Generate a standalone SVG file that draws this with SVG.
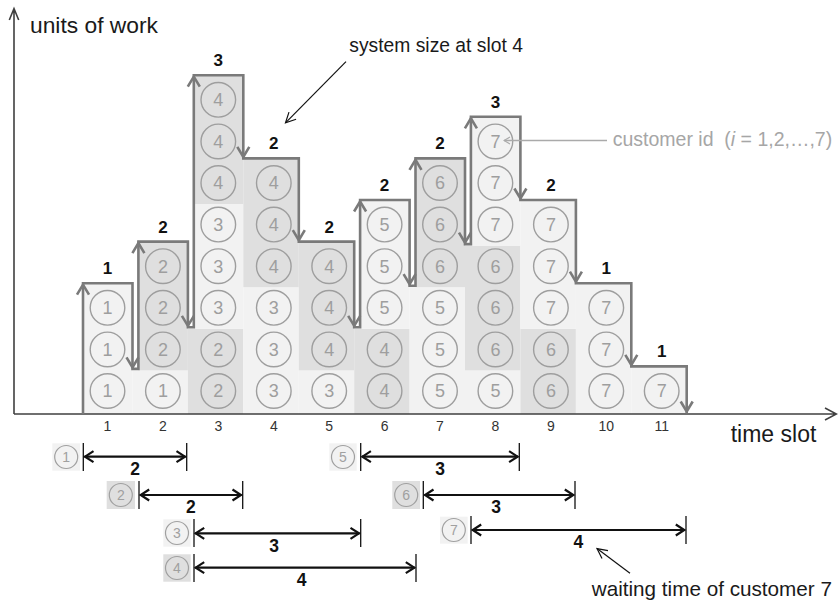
<svg xmlns="http://www.w3.org/2000/svg" xmlns:xlink="http://www.w3.org/1999/xlink" width="838" height="601" viewBox="0 0 838 601">
  <style>
    .lt { fill: #f2f2f2; }
    .dk { fill: #dfdfdf; }
    .tok circle { fill: none; stroke: #9e9e9e; stroke-width: 1.4; }
    .tok text { font-family: "Liberation Sans", Arial, sans-serif; font-size: 18px; fill: #9e9e9e; text-anchor: middle; }
    .stair { fill: none; stroke: #7a7a7a; stroke-width: 2.6; stroke-linejoin: miter; }
    .head { fill: none; stroke: #7a7a7a; stroke-width: 2.6; }
    .size { font-family: "Liberation Sans", Arial, sans-serif; font-size: 17px; font-weight: bold; fill: #111; text-anchor: middle; }
    .axis { fill: none; stroke: #404040; stroke-width: 1.6; }
    .tick { font-family: "Liberation Sans", Arial, sans-serif; font-size: 14px; fill: #333; text-anchor: middle; }
    .lbl { font-family: "Liberation Sans", Arial, sans-serif; fill: #1a1a1a; }
    .note { fill: none; stroke: #111; stroke-width: 1.2; }
    .wt .bar { stroke: #111; stroke-width: 2.2; marker-start: url(#dh); marker-end: url(#dh); }
    .wt .edge { stroke: #111; stroke-width: 1.3; }
    .wt circle { fill: none; stroke: #a0a0a0; stroke-width: 1.2; }
    .wt .num { font-family: "Liberation Sans", Arial, sans-serif; font-size: 14px; fill: #a0a0a0; text-anchor: middle; }
    .wt .val { font-family: "Liberation Sans", Arial, sans-serif; font-size: 17.5px; font-weight: bold; fill: #111; text-anchor: middle; }
  </style>
  <defs>
    <path id="hu" d="M-6,11.5 L0,1.5 L6,11.5"/>
    <path id="hd" d="M-6,-11.5 L0,-1.5 L6,-11.5"/>
    <marker id="dh" viewBox="-12 -8 14 16" refX="0" refY="0" markerWidth="14" markerHeight="16" markerUnits="userSpaceOnUse" orient="auto-start-reverse">
      <path d="M-9,-5.5 L-0.5,0 L-9,5.5" fill="none" stroke="#111" stroke-width="2.2"/>
    </marker>
    <marker id="thin" viewBox="-12 -7 14 14" refX="0" refY="0" markerWidth="14" markerHeight="14" markerUnits="userSpaceOnUse" orient="auto">
      <path d="M-10,-5 L0,0 L-10,5" fill="none" stroke="#111" stroke-width="1.2"/>
    </marker>
    <marker id="grey" viewBox="-9 -5 10 10" refX="0" refY="0" markerWidth="10" markerHeight="10" markerUnits="userSpaceOnUse" orient="auto">
      <path d="M-6,-3.5 L0,0 L-6,3.5" fill="none" stroke="#aaaaaa" stroke-width="1.2"/>
    </marker>
  </defs>

  <!-- work cells, one group per time slot -->
  <g id="slot-1">
    <rect class="lt" x="83" y="283.2" width="49.5" height="130.8"/>
    <g class="tok"><circle cx="107.5" cy="391" r="17.3"/><text x="107.5" y="397.4">1</text>
      <circle cx="107.5" cy="349.4" r="17.3"/><text x="107.5" y="355.8">1</text>
      <circle cx="107.5" cy="307.8" r="17.3"/><text x="107.5" y="314.2">1</text></g>
  </g>
  <g id="slot-2">
    <rect class="lt" x="132.5" y="370.4" width="55.4" height="43.6"/>
    <rect class="dk" x="138.4" y="241.6" width="49.5" height="128.8"/>
    <g class="tok"><circle cx="162.9" cy="391" r="17.3"/><text x="162.9" y="397.4">1</text>
      <circle cx="162.9" cy="349.4" r="17.3"/><text x="162.9" y="355.8">2</text>
      <circle cx="162.9" cy="307.8" r="17.3"/><text x="162.9" y="314.2">2</text>
      <circle cx="162.9" cy="266.2" r="17.3"/><text x="162.9" y="272.6">2</text></g>
  </g>
  <g id="slot-3">
    <rect class="dk" x="187.9" y="328.8" width="55.4" height="85.2"/>
    <rect class="lt" x="193.8" y="204" width="49.5" height="124.8"/>
    <rect class="dk" x="193.8" y="75.2" width="49.5" height="128.8"/>
    <g class="tok"><circle cx="218.3" cy="391" r="17.3"/><text x="218.3" y="397.4">2</text>
      <circle cx="218.3" cy="349.4" r="17.3"/><text x="218.3" y="355.8">2</text>
      <circle cx="218.3" cy="307.8" r="17.3"/><text x="218.3" y="314.2">3</text>
      <circle cx="218.3" cy="266.2" r="17.3"/><text x="218.3" y="272.6">3</text>
      <circle cx="218.3" cy="224.6" r="17.3"/><text x="218.3" y="231">3</text>
      <circle cx="218.3" cy="183" r="17.3"/><text x="218.3" y="189.4">4</text>
      <circle cx="218.3" cy="141.4" r="17.3"/><text x="218.3" y="147.8">4</text>
      <circle cx="218.3" cy="99.8" r="17.3"/><text x="218.3" y="106.2">4</text></g>
  </g>
  <g id="slot-4">
    <rect class="lt" x="243.3" y="287.2" width="55.5" height="126.8"/>
    <rect class="dk" x="243.3" y="158.4" width="55.5" height="128.8"/>
    <g class="tok"><circle cx="273.8" cy="391" r="17.3"/><text x="273.8" y="397.4">3</text>
      <circle cx="273.8" cy="349.4" r="17.3"/><text x="273.8" y="355.8">3</text>
      <circle cx="273.8" cy="307.8" r="17.3"/><text x="273.8" y="314.2">3</text>
      <circle cx="273.8" cy="266.2" r="17.3"/><text x="273.8" y="272.6">4</text>
      <circle cx="273.8" cy="224.6" r="17.3"/><text x="273.8" y="231">4</text>
      <circle cx="273.8" cy="183" r="17.3"/><text x="273.8" y="189.4">4</text></g>
  </g>
  <g id="slot-5">
    <rect class="lt" x="298.8" y="370.4" width="55.4" height="43.6"/>
    <rect class="dk" x="298.8" y="241.6" width="55.4" height="128.8"/>
    <g class="tok"><circle cx="329.2" cy="391" r="17.3"/><text x="329.2" y="397.4">3</text>
      <circle cx="329.2" cy="349.4" r="17.3"/><text x="329.2" y="355.8">4</text>
      <circle cx="329.2" cy="307.8" r="17.3"/><text x="329.2" y="314.2">4</text>
      <circle cx="329.2" cy="266.2" r="17.3"/><text x="329.2" y="272.6">4</text></g>
  </g>
  <g id="slot-6">
    <rect class="dk" x="354.2" y="328.8" width="55.4" height="85.2"/>
    <rect class="lt" x="360.1" y="200" width="49.5" height="128.8"/>
    <g class="tok"><circle cx="384.6" cy="391" r="17.3"/><text x="384.6" y="397.4">4</text>
      <circle cx="384.6" cy="349.4" r="17.3"/><text x="384.6" y="355.8">4</text>
      <circle cx="384.6" cy="307.8" r="17.3"/><text x="384.6" y="314.2">5</text>
      <circle cx="384.6" cy="266.2" r="17.3"/><text x="384.6" y="272.6">5</text>
      <circle cx="384.6" cy="224.6" r="17.3"/><text x="384.6" y="231">5</text></g>
  </g>
  <g id="slot-7">
    <rect class="lt" x="409.6" y="287.2" width="55.4" height="126.8"/>
    <rect class="dk" x="415.5" y="158.4" width="49.5" height="128.8"/>
    <g class="tok"><circle cx="440" cy="391" r="17.3"/><text x="440" y="397.4">5</text>
      <circle cx="440" cy="349.4" r="17.3"/><text x="440" y="355.8">5</text>
      <circle cx="440" cy="307.8" r="17.3"/><text x="440" y="314.2">5</text>
      <circle cx="440" cy="266.2" r="17.3"/><text x="440" y="272.6">6</text>
      <circle cx="440" cy="224.6" r="17.3"/><text x="440" y="231">6</text>
      <circle cx="440" cy="183" r="17.3"/><text x="440" y="189.4">6</text></g>
  </g>
  <g id="slot-8">
    <rect class="lt" x="465" y="370.4" width="55.4" height="43.6"/>
    <rect class="dk" x="465" y="245.6" width="55.4" height="124.8"/>
    <rect class="lt" x="470.9" y="116.8" width="49.5" height="128.8"/>
    <g class="tok"><circle cx="495.4" cy="391" r="17.3"/><text x="495.4" y="397.4">5</text>
      <circle cx="495.4" cy="349.4" r="17.3"/><text x="495.4" y="355.8">6</text>
      <circle cx="495.4" cy="307.8" r="17.3"/><text x="495.4" y="314.2">6</text>
      <circle cx="495.4" cy="266.2" r="17.3"/><text x="495.4" y="272.6">6</text>
      <circle cx="495.4" cy="224.6" r="17.3"/><text x="495.4" y="231">7</text>
      <circle cx="495.4" cy="183" r="17.3"/><text x="495.4" y="189.4">7</text>
      <circle cx="495.4" cy="141.4" r="17.3"/><text x="495.4" y="147.8">7</text></g>
  </g>
  <g id="slot-9">
    <rect class="dk" x="520.4" y="328.8" width="55.5" height="85.2"/>
    <rect class="lt" x="520.4" y="200" width="55.5" height="128.8"/>
    <g class="tok"><circle cx="550.9" cy="391" r="17.3"/><text x="550.9" y="397.4">6</text>
      <circle cx="550.9" cy="349.4" r="17.3"/><text x="550.9" y="355.8">6</text>
      <circle cx="550.9" cy="307.8" r="17.3"/><text x="550.9" y="314.2">7</text>
      <circle cx="550.9" cy="266.2" r="17.3"/><text x="550.9" y="272.6">7</text>
      <circle cx="550.9" cy="224.6" r="17.3"/><text x="550.9" y="231">7</text></g>
  </g>
  <g id="slot-10">
    <rect class="lt" x="575.9" y="283.2" width="55.4" height="130.8"/>
    <g class="tok"><circle cx="606.3" cy="391" r="17.3"/><text x="606.3" y="397.4">7</text>
      <circle cx="606.3" cy="349.4" r="17.3"/><text x="606.3" y="355.8">7</text>
      <circle cx="606.3" cy="307.8" r="17.3"/><text x="606.3" y="314.2">7</text></g>
  </g>
  <g id="slot-11">
    <rect class="lt" x="631.3" y="366.4" width="55.4" height="47.6"/>
    <g class="tok"><circle cx="661.7" cy="391" r="17.3"/><text x="661.7" y="397.4">7</text></g>
  </g>

  <!-- axes -->
  <g id="axes">
    <path class="axis" d="M14,414 V9 M9.3,20 L14,8.5 L18.7,20"/>
    <path class="axis" d="M14,414 H836 M825,408 L836.5,414 L825,420"/>
    <text class="lbl" x="30" y="33" font-size="22.8">units of work</text>
    <text class="lbl" x="730.7" y="441.7" font-size="23">time slot</text>
    <g class="tick">
      <text x="107.5" y="431">1</text><text x="162.9" y="431">2</text><text x="218.3" y="431">3</text>
      <text x="273.8" y="431">4</text><text x="329.2" y="431">5</text><text x="384.6" y="431">6</text>
      <text x="440" y="431">7</text><text x="495.4" y="431">8</text><text x="550.9" y="431">9</text>
      <text x="606.3" y="431">10</text><text x="661.7" y="431">11</text>
    </g>
  </g>

  <!-- arrival / service staircase -->
  <g id="connectors">
    <path class="stair" d="M83,414 V283.2 H132.5 V368.9 H138.4 V241.6 H187.9 V327.3 H193.8 V75.2 H243.3 V158.4 H298.8 V241.6 H354.2 V327.3 H360.1 V200 H409.6 V285.7 H415.5 V158.4 H465 V244.1 H470.9 V116.8 H520.4 V200 H575.9 V283.2 H631.3 V366.4 H686.7 V413"/>
    <g class="head">
      <use xlink:href="#hu" x="83" y="283.2"/>
      <use xlink:href="#hu" x="138.4" y="241.6"/>
      <use xlink:href="#hu" x="193.8" y="75.2"/>
      <use xlink:href="#hu" x="360.1" y="200"/>
      <use xlink:href="#hu" x="415.5" y="158.4"/>
      <use xlink:href="#hu" x="470.9" y="116.8"/>
      <use xlink:href="#hd" x="132.5" y="368.9"/>
      <use xlink:href="#hd" x="187.9" y="327.3"/>
      <use xlink:href="#hd" x="243.3" y="158.4"/>
      <use xlink:href="#hd" x="298.8" y="241.6"/>
      <use xlink:href="#hd" x="354.2" y="327.3"/>
      <use xlink:href="#hd" x="409.6" y="285.7"/>
      <use xlink:href="#hd" x="465" y="244.1"/>
      <use xlink:href="#hd" x="520.4" y="200"/>
      <use xlink:href="#hd" x="575.9" y="283.2"/>
      <use xlink:href="#hd" x="631.3" y="366.4"/>
      <use xlink:href="#hd" x="686.7" y="413"/>
    </g>
    <line class="note" x1="346" y1="61.7" x2="285.5" y2="122.8" marker-end="url(#thin)"/>
    <line x1="607" y1="140.5" x2="504" y2="140.5" stroke="#aaaaaa" stroke-width="1.3" marker-end="url(#grey)"/>
    <line class="note" x1="630" y1="573.3" x2="597" y2="548.6" marker-end="url(#thin)"/>
  </g>

  <!-- system size per slot -->
  <g id="system-size" class="size">
    <text x="107.5" y="274.2">1</text><text x="162.9" y="232.6">2</text><text x="218.3" y="66.2">3</text>
    <text x="273.8" y="149.4">2</text><text x="329.2" y="232.6">2</text><text x="384.6" y="191">2</text>
    <text x="440" y="149.4">2</text><text x="495.4" y="107.8">3</text><text x="550.9" y="191">2</text>
    <text x="606.3" y="274.2">1</text><text x="661.7" y="357.4">1</text>
  </g>

  <!-- annotations -->
  <text class="lbl" x="349.3" y="51.7" font-size="19.3">system size at slot 4</text>
  <text class="lbl" x="612.7" y="145.5" font-size="19.5" style="fill:#a6a6a6" xml:space="preserve">customer id  (<tspan font-style="italic">i</tspan> = 1,2,…,7)</text>
  <text class="lbl" x="591.7" y="596" font-size="20.7">waiting time of customer 7</text>

  <!-- waiting times per customer -->
  <g id="wait-1" class="wt">
    <rect class="lt" x="52.3" y="443.3" width="27.7" height="27.4"/>
    <circle cx="66.2" cy="457" r="11.5"/><text class="num" x="66.2" y="462">1</text>
    <line class="edge" x1="83.3" y1="443" x2="83.3" y2="471"/><line class="edge" x1="186.7" y1="443" x2="186.7" y2="471"/>
    <line class="bar" x1="84.5" y1="456.7" x2="185.5" y2="456.7"/>
    <text class="val" x="135" y="475">2</text>
  </g>
  <g id="wait-2" class="wt">
    <rect class="dk" x="106.7" y="481" width="28.3" height="28"/>
    <circle cx="120.8" cy="495" r="11.5"/><text class="num" x="120.8" y="500">2</text>
    <line class="edge" x1="139" y1="481" x2="139" y2="509"/><line class="edge" x1="242.7" y1="481" x2="242.7" y2="509"/>
    <line class="bar" x1="140.2" y1="495" x2="241.5" y2="495"/>
    <text class="val" x="190.8" y="513.3">2</text>
  </g>
  <g id="wait-3" class="wt">
    <rect class="lt" x="163.3" y="519.3" width="27.4" height="27.4"/>
    <circle cx="177" cy="533" r="11.5"/><text class="num" x="177" y="538">3</text>
    <line class="edge" x1="194" y1="519" x2="194" y2="547"/><line class="edge" x1="360.7" y1="519" x2="360.7" y2="547"/>
    <line class="bar" x1="195.2" y1="533.3" x2="359.5" y2="533.3"/>
    <text class="val" x="274" y="551.6">3</text>
  </g>
  <g id="wait-4" class="wt">
    <rect class="dk" x="163.3" y="554.3" width="27.4" height="27.4"/>
    <circle cx="177" cy="568" r="11.5"/><text class="num" x="177" y="573">4</text>
    <line class="edge" x1="194" y1="554" x2="194" y2="582"/><line class="edge" x1="416" y1="554" x2="416" y2="582"/>
    <line class="bar" x1="195.2" y1="567.7" x2="414.8" y2="567.7"/>
    <text class="val" x="301.7" y="586">4</text>
  </g>
  <g id="wait-5" class="wt">
    <rect class="lt" x="329.3" y="443.3" width="27.4" height="27.4"/>
    <circle cx="343" cy="457" r="11.5"/><text class="num" x="343" y="462">5</text>
    <line class="edge" x1="360.7" y1="443" x2="360.7" y2="471"/><line class="edge" x1="519.3" y1="443" x2="519.3" y2="471"/>
    <line class="bar" x1="361.9" y1="456.7" x2="518.1" y2="456.7"/>
    <text class="val" x="440" y="475">3</text>
  </g>
  <g id="wait-6" class="wt">
    <rect class="dk" x="392.3" y="481" width="27.7" height="28"/>
    <circle cx="406.2" cy="495" r="11.5"/><text class="num" x="406.2" y="500">6</text>
    <line class="edge" x1="423.3" y1="481" x2="423.3" y2="509"/><line class="edge" x1="575" y1="481" x2="575" y2="509"/>
    <line class="bar" x1="424.5" y1="495" x2="573.8" y2="495"/>
    <text class="val" x="496" y="513.3">3</text>
  </g>
  <g id="wait-7" class="wt">
    <rect class="lt" x="440" y="516.7" width="27.7" height="27"/>
    <circle cx="453.8" cy="530" r="11.5"/><text class="num" x="453.8" y="535">7</text>
    <line class="edge" x1="471" y1="516" x2="471" y2="544"/><line class="edge" x1="686" y1="516" x2="686" y2="544"/>
    <line class="bar" x1="472.2" y1="530" x2="684.8" y2="530"/>
    <text class="val" x="578.3" y="548.3">4</text>
  </g>
</svg>
